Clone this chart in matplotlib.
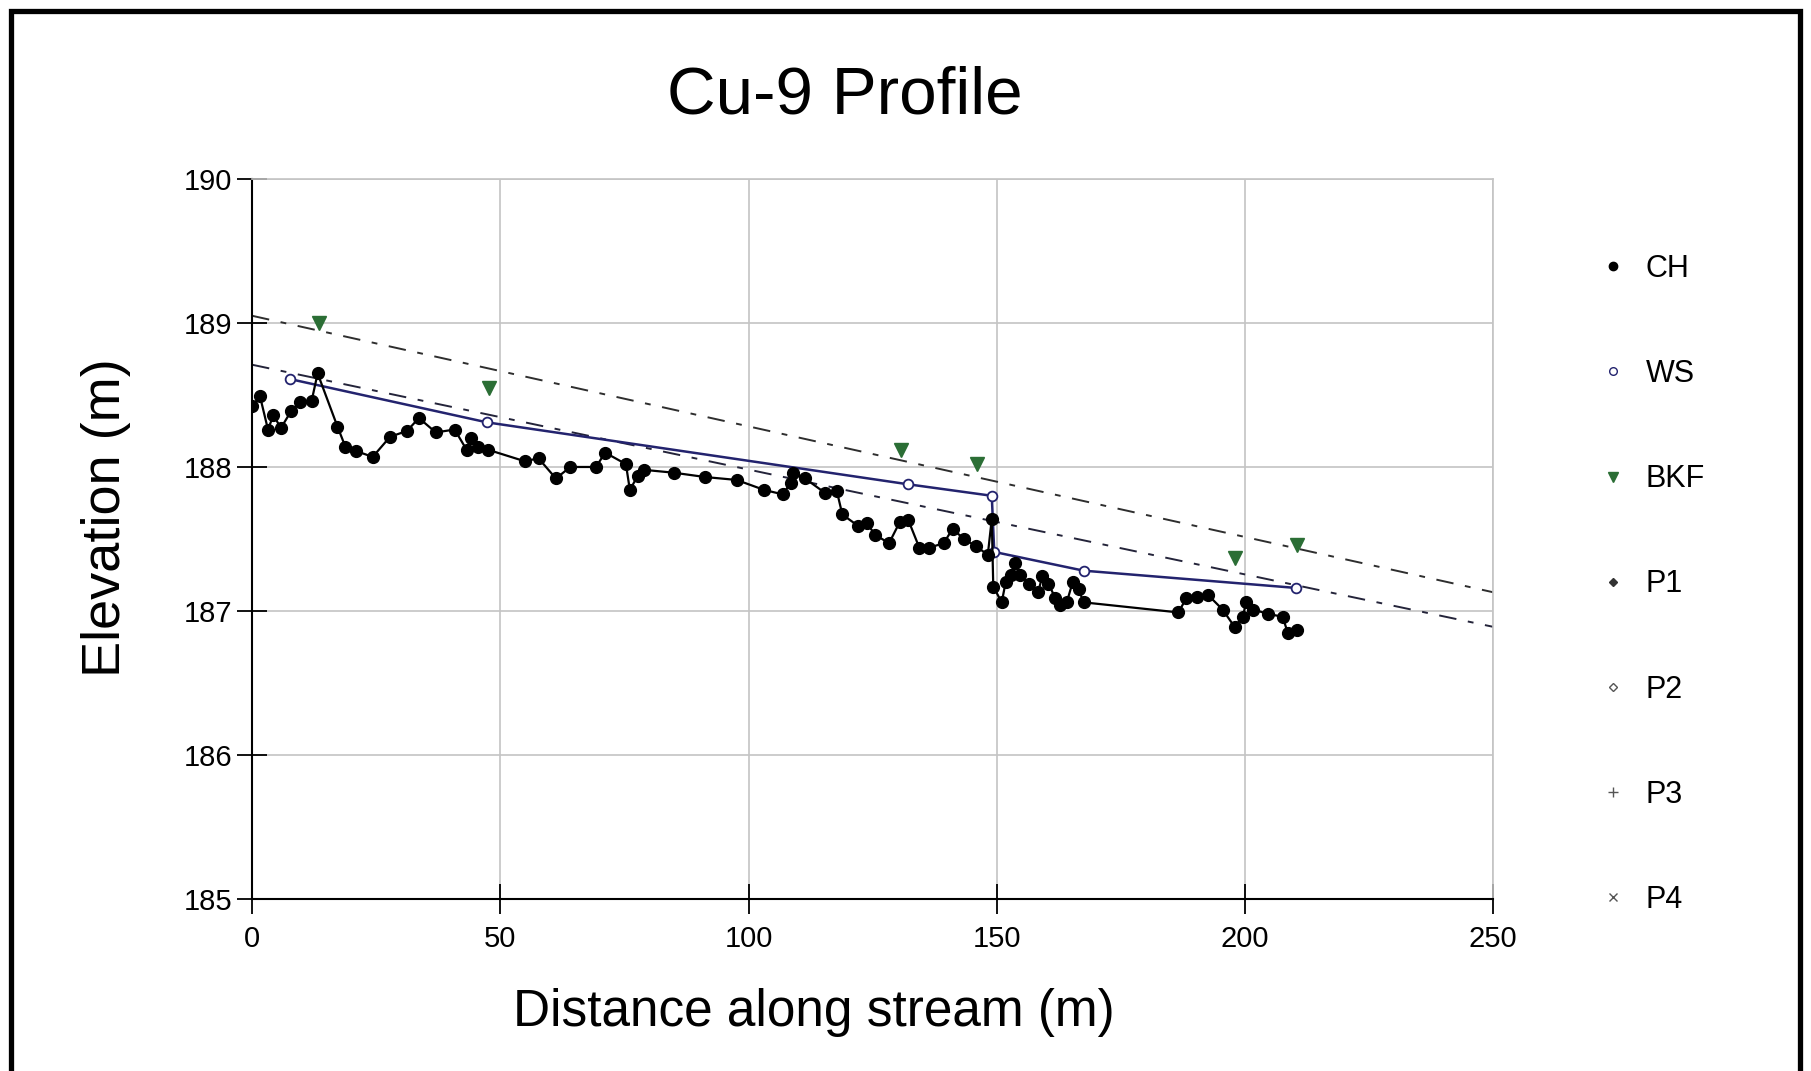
import numpy as np
import matplotlib.pyplot as plt
from matplotlib.lines import Line2D

plt.rcParams.update({
    'font.family': ['Liberation Sans', 'DejaVu Sans'],
    'font.size': 21,
})

# ---------- data ----------
ch_x = [0.0, 1.6, 3.2, 4.3, 5.8, 7.9, 9.7, 12.0, 13.2, 17.2, 18.8, 21.0, 24.3, 27.8,
        31.2, 33.6, 37.0, 40.8, 43.2, 44.1, 45.6, 47.5, 54.9, 57.7, 61.2, 64.1, 69.3,
        71.1, 75.3, 76.1, 77.7, 79.0, 85.0, 91.3, 97.6, 103.2, 106.9, 108.5, 108.9,
        111.4, 115.4, 117.8, 118.9, 122.1, 123.8, 125.5, 128.3, 130.5, 132.2, 134.4,
        136.4, 139.3, 141.1, 143.4, 145.8, 148.2, 149.0, 149.3, 151.0, 151.8, 152.9,
        153.7, 154.7, 156.5, 158.3, 159.2, 160.4, 161.8, 162.8, 164.1, 165.3, 166.5,
        167.5, 186.6, 188.2, 190.3, 192.6, 195.5, 197.9, 199.6, 200.2, 201.7, 204.6,
        207.6, 208.6, 210.4]
ch_z = [188.42, 188.49, 188.26, 188.36, 188.27, 188.39, 188.45, 188.46, 188.65, 188.28,
        188.14, 188.11, 188.07, 188.21, 188.25, 188.34, 188.24, 188.26, 188.12, 188.20,
        188.14, 188.12, 188.04, 188.06, 187.92, 188.00, 188.00, 188.10, 188.02, 187.84,
        187.94, 187.98, 187.96, 187.93, 187.91, 187.84, 187.81, 187.89, 187.96, 187.92,
        187.82, 187.83, 187.67, 187.59, 187.61, 187.53, 187.47, 187.62, 187.63, 187.44,
        187.44, 187.47, 187.57, 187.50, 187.45, 187.39, 187.64, 187.17, 187.06, 187.20,
        187.25, 187.33, 187.25, 187.19, 187.13, 187.24, 187.19, 187.09, 187.04, 187.06,
        187.20, 187.15, 187.06, 186.99, 187.09, 187.10, 187.11, 187.01, 186.89, 186.96,
        187.06, 187.01, 186.98, 186.96, 186.85, 186.87]

ws_x = [7.7, 47.3, 132.1, 149.0, 149.5, 167.5, 210.3]
ws_z = [188.61, 188.31, 187.88, 187.80, 187.41, 187.28, 187.16]

bkf_x = [13.5, 47.7, 130.7, 146.0, 197.9, 210.5]
bkf_z = [189.00, 188.55, 188.12, 188.02, 187.37, 187.46]

# trend lines (start / end)
bkf_trend_x = [0, 250]
bkf_trend_z = [189.05, 187.13]
ws_trend_x = [0, 250]
ws_trend_z = [188.71, 186.89]

legend_labels = ['CH', 'WS', 'BKF', 'P1', 'P2', 'P3', 'P4']

NAVY = '#23236e'
GREEN = '#2b6e35'
GRID = '#c4c4c4'

fig = plt.figure(figsize=(18.11, 10.71), dpi=100)
ax = fig.add_axes([0.1392, 0.1606, 0.6853, 0.6723])

dash = (0, (9, 6, 3, 6))
ax.plot(bkf_trend_x, bkf_trend_z, color='#2e2e2e', lw=1.4, linestyle=dash, zorder=2)
ax.plot(ws_trend_x, ws_trend_z, color='#24243a', lw=1.4, linestyle=dash, zorder=2)

ax.plot(ws_x, ws_z, color=NAVY, lw=1.8, marker='o', ms=7, mfc='white',
        mec=NAVY, mew=1.3, zorder=3)
ax.plot(ch_x, ch_z, color='black', lw=1.6, marker='o', ms=8.5, mfc='black',
        mec='black', zorder=4)
ax.plot(bkf_x, bkf_z, linestyle='none', marker='v', ms=9.5, color=GREEN, zorder=5)

ax.set_xlim(0, 250)
ax.set_ylim(185, 190)
ax.set_xticks(np.arange(0, 251, 50))
ax.set_yticks(np.arange(185, 191, 1))
ax.grid(True, color=GRID, lw=1.2, zorder=0)
ax.set_axisbelow(True)
for s in ['top', 'right']:
    ax.spines[s].set_color(GRID)
    ax.spines[s].set_linewidth(1.2)
for s in ['left', 'bottom']:
    ax.spines[s].set_linewidth(1.5)
ax.tick_params(direction='inout', length=21, width=1.3, labelsize=21)
ax.tick_params(axis='y', pad=4)
ax.tick_params(axis='x', pad=8)

ax.set_xlabel('Distance along stream (m)', fontsize=37)
ax.set_ylabel('Elevation (m)', fontsize=39)
ax.xaxis.set_label_coords(0.453, -0.157)
ax.yaxis.set_label_coords(-0.118, 0.529)
ax.xaxis.label.set_va('center')
ax.yaxis.label.set_va('center')

fig.text(845 / 1811, 1 - 96 / 1071, 'Cu-9 Profile', fontsize=48.5,
         ha='center', va='center')

# legend proxies
styles = [
    dict(marker='o', color='black', mfc='black', ms=6),
    dict(marker='o', color=NAVY, mfc='white', ms=5.5),
    dict(marker='v', color=GREEN, mfc=GREEN, ms=7),
    dict(marker='D', color='#333333', mfc='#333333', ms=4.5),
    dict(marker='D', color='#555555', mfc='white', ms=4.5),
    dict(marker='+', color='#555555', ms=7),
    dict(marker='x', color='#555555', ms=5.5),
]
handles = [Line2D([], [], linestyle='none', **st) for st in styles]
fig.legend(handles, legend_labels, loc='upper left',
           bbox_to_anchor=(1598 / 1811, 1 - 254 / 1071), frameon=False,
           fontsize=22, handlelength=1.0, handletextpad=0.55,
           labelspacing=2.46, borderpad=0, borderaxespad=0)

# outer frame (bottom edge falls outside the picture)
frame_x = [10.5 / 1811, 10.5 / 1811, 1800 / 1811, 1800 / 1811]
frame_y = [-0.02, 1 - 10.5 / 1071, 1 - 10.5 / 1071, -0.02]
fig.add_artist(Line2D(frame_x, frame_y, transform=fig.transFigure,
                      color='black', lw=3.8, solid_joinstyle='miter'))

fig.savefig('out.png', dpi=100)
